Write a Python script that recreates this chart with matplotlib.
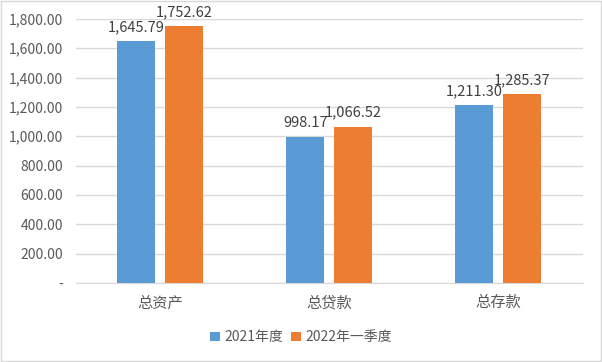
import matplotlib
matplotlib.use("Agg")
from matplotlib import pyplot as plt
from matplotlib.ticker import FuncFormatter
from matplotlib.patches import Rectangle
import numpy as np

plt.rcParams['font.family'] = ['Noto Sans CJK SC', 'DejaVu Sans']

# data
categories = ["总资产", "总贷款", "总存款"]
series_names = ["2021年度", "2022年一季度"]
values_2021 = [1645.79, 998.17, 1211.30]
values_2022 = [1752.62, 1066.52, 1285.37]

blue = "#5B9BD5"
orange = "#ED7D31"
text_gray = "#595959"

fig = plt.figure(figsize=(6.02, 3.62), dpi=100)
ax = fig.add_axes([0.126, 0.218, 0.842, 0.730])

x = np.arange(len(categories))
width = 0.225
offset = 0.142

bars1 = ax.bar(x - offset, values_2021, width, color=blue, label=series_names[0], zorder=3)
bars2 = ax.bar(x + offset, values_2022, width, color=orange, label=series_names[1], zorder=3)

for bars in (bars1, bars2):
    for b in bars:
        ax.annotate(f"{b.get_height():,.2f}",
                    (b.get_x() + b.get_width() / 2, b.get_height()),
                    xytext=(0, 5), textcoords="offset points",
                    ha="center", va="bottom", fontsize=10.5, color="#404040")

ax.set_xlim(-0.5, 2.5)
ax.set_ylim(0, 1800)
ax.set_yticks(np.arange(0, 1801, 200))
ax.yaxis.set_major_formatter(FuncFormatter(lambda v, p: "-" if v == 0 else f"{v:,.2f}"))
ax.set_xticks(x)
ax.set_xticklabels(categories)

ax.grid(axis="y", color="#D9D9D9", linewidth=1, zorder=0)
for s in ("top", "right", "left"):
    ax.spines[s].set_visible(False)
ax.spines["bottom"].set_color("#D9D9D9")
ax.tick_params(axis="both", length=0, colors=text_gray, labelsize=10)
ax.tick_params(axis="x", pad=8, labelsize=11)
ax.tick_params(axis="y", pad=9)

fig.legend(loc="center", bbox_to_anchor=(0.5, 0.068), ncol=2, frameon=False,
           fontsize=10, handlelength=0.7, handleheight=0.7, handletextpad=0.3,
           columnspacing=0.6, labelcolor=text_gray)

fig.patches.append(Rectangle((0.002, 0.003), 0.996, 0.994, transform=fig.transFigure,
                             fill=False, edgecolor="#D9D9D9", linewidth=1))

fig.savefig("out.png", dpi=100)
